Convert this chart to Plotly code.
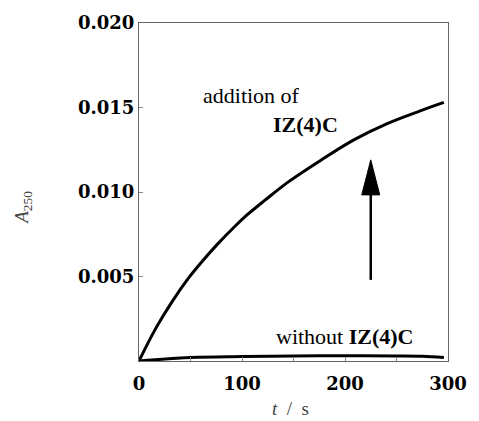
import plotly.graph_objects as go

# --- data ---
t_with = [0, 16, 32, 48, 60, 76, 92, 106, 122, 145, 177, 209, 241, 273, 296]
a_with = [0.0, 0.0019, 0.0035, 0.0049, 0.0058, 0.0069, 0.0079, 0.0087, 0.0095, 0.0106,
          0.0119, 0.0131, 0.01405, 0.0148, 0.0153]

t_without = [0, 50, 100, 150, 200, 250, 275, 296]
a_without = [0.0, 0.0002, 0.00026, 0.0003, 0.00031, 0.0003, 0.00028, 0.0002]

x_ticks = [0, 100, 200, 300]
y_ticks = [0.005, 0.010, 0.015, 0.020]
y_ticklabels = ["0.005", "0.010", "0.015", "0.020"]

arrow_t = 225
arrow_a_start = 0.0048
arrow_a_tip = 0.0119

SERIF = "Liberation Serif, Times New Roman, serif"
TICKFONT = dict(family="DejaVu Serif", size=18, color="black", weight="bold")

fig = go.Figure()
fig.add_trace(go.Scatter(x=t_with, y=a_with, mode="lines",
                         line=dict(color="black", width=3, shape="spline", smoothing=1.0),
                         showlegend=False, hoverinfo="skip"))
fig.add_trace(go.Scatter(x=t_without, y=a_without, mode="lines",
                         line=dict(color="black", width=3, shape="spline", smoothing=1.0),
                         showlegend=False, hoverinfo="skip"))

axis_common = dict(showline=True, linecolor="#666", linewidth=1, mirror=True, showgrid=False,
                   zeroline=False, ticks="inside", ticklen=4, tickcolor="#888", tickfont=TICKFONT)

fig.update_xaxes(range=[0, 300], tickvals=x_ticks, ticktext=[str(v) for v in x_ticks],
                 ticklabelstandoff=6,
                 minor=dict(ticks="inside", ticklen=4, tickcolor="#888", dtick=50), **axis_common)
fig.update_yaxes(range=[0, 0.020], tickvals=y_ticks, ticktext=y_ticklabels, **axis_common)

# arrow shaft
fig.add_shape(type="line", x0=arrow_t, x1=arrow_t, y0=arrow_a_start, y1=arrow_a_tip - 0.0019,
              line=dict(color="black", width=2.5))
# arrow head (pixel-sized, anchored at the tip)
fig.add_shape(type="path", xref="x", yref="y", xsizemode="pixel", ysizemode="pixel",
              xanchor=arrow_t, yanchor=arrow_a_tip, path="M -9,-35 L 9,-35 L 0,0 Z",
              fillcolor="black", line=dict(color="black", width=1))

ann_font = dict(family=SERIF, size=22, color="black")
fig.add_annotation(x=(253 - 139) / 313, y=(361 - 92) / 343, xref="paper", yref="paper",
                   text="addition of", showarrow=False, font=ann_font, xanchor="center", yanchor="middle")
fig.add_annotation(x=(308 - 139) / 313, y=(361 - 121) / 343, xref="paper", yref="paper",
                   text="<b>IZ(4)C</b>", showarrow=False, font=ann_font, xanchor="center", yanchor="middle")
fig.add_annotation(x=(348 - 139) / 313, y=(361 - 336) / 343, xref="paper", yref="paper",
                   text="without <b>IZ(4)C</b>", showarrow=False, font=ann_font, xanchor="center", yanchor="middle")

# axis titles
fig.add_annotation(x=-(139 - 22) / 313, y=(361 - 205) / 343, xref="paper", yref="paper",
                   text="<i>A</i><sub>250</sub>", showarrow=False, textangle=-90,
                   font=dict(family=SERIF, size=19, color="#444"), xanchor="center", yanchor="middle")
fig.add_annotation(x=(292 - 139) / 313, y=-(409 - 361) / 343, xref="paper", yref="paper",
                   text="<i>t</i>  /  s", showarrow=False,
                   font=dict(family=SERIF, size=19, color="#444"), xanchor="center", yanchor="middle")

fig.update_layout(width=479, height=421, margin=dict(l=139, r=27, t=18, b=60),
                  plot_bgcolor="white", paper_bgcolor="white")

fig.write_html("out.html", config={"displayModeBar": False},
               post_script="document.body.style.margin='0';")
